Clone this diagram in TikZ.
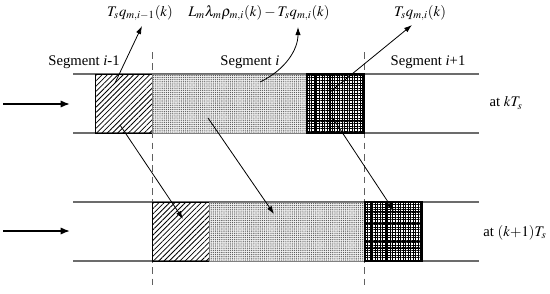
\documentclass[tikz,border=0pt]{standalone}
\usepackage{mathptmx}
\usepackage{fontspec}
\setmainfont{Liberation Serif}
\usetikzlibrary{arrows.meta,patterns.meta,positioning}

\tikzset{
  band/.style={draw=gray!85!black, line width=0.9pt},
  seam/.style={draw=gray!75!black, dash pattern=on 5pt off 3.5pt, line width=0.6pt},
  cell/.style={inner sep=0pt, outer sep=0pt, minimum height=44.25pt, minimum width=42.75pt},
  hatchcell/.style={cell, draw, line width=0.6pt, pattern={Lines[angle=45,distance=2.8pt,line width=0.6pt]}},
  dotcell/.style={cell, draw=gray, preaction={fill=gray!12}, pattern={Dots[distance=1.6pt,radius=0.5pt]}, pattern color=gray!70!black},
  gridcell/.style={cell, draw, line width=0.8pt, pattern={Hatch[angle=0,distance=1.9pt,line width=0.3pt]}, pattern color=black},
  flow/.style={line width=0.6pt, -{Latex[length=6pt,width=4pt]}},
  inflow/.style={line width=1.3pt, -{Latex[length=7pt,width=5.5pt]}},
  lbl/.style={font=\fontsize{11}{13}\selectfont, inner sep=1pt},
}

\begin{document}
\begin{tikzpicture}[x=0.75pt,y=-0.75pt]
  \useasboundingbox (0,0) rectangle (550,293);
  % road bands
  \foreach \y in {74,133,202,261}
    \draw[band] (73,\y) -- (479,\y);
  % segment boundaries
  \foreach \x in {152,364} {
    \coordinate (s\x a) at (\x,52);
    \coordinate (s\x b) at (\x,288);
    \draw[seam] (s\x a) -- (s\x b);
  }
  % cells at kT_s
  \node[hatchcell, anchor=north west] (h1) at (95,74) {};
  \node[dotcell, minimum width=116.25pt, right=0pt of h1] (p1) {};
  \node[gridcell, right=0pt of p1] (g1) {};
  % cells at (k+1)T_s
  \node[hatchcell, anchor=north west] (h2) at (152,202) {};
  \node[dotcell, minimum width=117pt, right=0pt of h2] (p2) {};
  \node[gridcell, right=0pt of p2] (g2) {};
  % coarse grid lines
  \foreach \dy in {0,128} {
    \foreach \x in {315,330,347}
      \draw[line width=0.7pt] (\x+\dy*0.445,74+\dy) -- (\x+\dy*0.445,133+\dy);
    \foreach \y in {83,95,113,120}
      \draw[line width=0.7pt] (308+\dy*0.445,\y+\dy) -- (364+\dy*0.445,\y+\dy);
  }
  \draw[line width=0.8pt] (g1.north east) -- (g1.south east);
  \draw[line width=0.8pt] (g2.north east) -- (g2.south east);

  % labels
  \node[lbl] (seg1) at (84,62) {Segment \textit{i}-1};
  \node[lbl] (seg2) at (250,62) {Segment \textit{i}};
  \node[lbl] (seg3) at (428,62) {Segment \textit{i}+1};
  \node[lbl] (t1) at (140,13) {$T_s q_{m,i-1}(k)$};
  \node[lbl] (t2) at (259,13) {$L_m\lambda_m\rho_{m,i}(k)-T_s q_{m,i}(k)$};
  \node[lbl] (t3) at (420,13) {$T_s q_{m,i}(k)$};
  \node[lbl] (k1) at (506,103) {at $kT_s$};
  \node[lbl] (k2) at (515,233) {at $(k{+}1)T_s$};

  % inflow arrows
  \coordinate (in1) at (3,104);
  \coordinate (in2) at (3,231);
  \draw[inflow] (in1) -- (70,104);
  \draw[inflow] (in2) -- (70,231);

  % outflow arrows
  \coordinate (u1) at (115,83);
  \coordinate (e1) at (142,26);
  \coordinate (u2) at (260,82);
  \coordinate (e2) at (298,27);
  \coordinate (u3) at (330,92);
  \coordinate (e3) at (412,25);
  \draw[flow] (u1) -- (e1);
  \draw[flow] (u2) .. controls (285,70) and (298,50) .. (e2);
  \draw[flow] (u3) -- (e3);

  % moving arrows
  \coordinate (d1) at (120,125);
  \coordinate (f1) at (183,219);
  \coordinate (d2) at (208,118);
  \coordinate (f2) at (274,214);
  \coordinate (d3) at (332,117);
  \coordinate (f3) at (394,211);
  \foreach \a/\b in {d1/f1,d2/f2,d3/f3}
    \draw[flow] (\a) -- (\b);
\end{tikzpicture}
\end{document}
